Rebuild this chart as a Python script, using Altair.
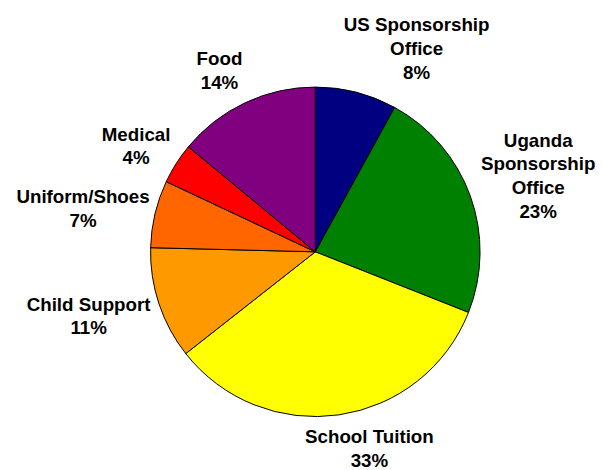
import altair as alt
import pandas as pd

# ---- data ----
categories = ["US Sponsorship Office", "Uganda Sponsorship Office", "School Tuition",
              "Child Support", "Uniform/Shoes", "Medical", "Food"]
label_names = ["US Sponsorship\nOffice", "Uganda\nSponsorship\nOffice", "School Tuition",
               "Child Support", "Uniform/Shoes", "Medical", "Food"]
values = [8, 23, 33.4, 11, 6.6, 4, 14]
colors = ["#000080", "#008000", "#FFFF00", "#FF9900", "#FF6600", "#FF0000", "#800080"]

df = pd.DataFrame({
    "category": categories,
    "name": label_names,
    "value": values,
    "order": list(range(len(categories))),
})

# ---- layout / style ----
CX, CY = 311.5, 244    # pie centre inside the view
R = 167                # pie radius
LH = 24                # label line height
# per-label placement of the label block centre: (radius, dx, dy)
label_pos = {
    "US Sponsorship Office": (212, 50, 0),
    "Uganda Sponsorship Office": (238, 2, 4),
    "School Tuition": (200, 26, 2),
    "Child Support": (240, -2, -10),
    "Uniform/Shoes": (244, 2, 13),
    "Medical": (214, -1, 8),
    "Food": (207, -9, 4),
}

base = alt.Chart(df)

pie = base.mark_arc(outerRadius=R, stroke="black", strokeWidth=1).encode(
    theta=alt.Theta("value:Q", stack=True),
    color=alt.Color("category:N", scale=alt.Scale(domain=categories, range=colors), legend=None),
    order=alt.Order("order:Q"),
    x=alt.value(CX),
    y=alt.value(CY),
)

layers = [pie]
for cat, nm in zip(categories, label_names):
    r, dx, dy = label_pos[cat]
    n_lines = nm.count("\n") + 2
    dy = dy - (n_lines - 1) * LH / 2   # first line sits at the anchor; centre the block
    layers.append(
        base.transform_joinaggregate(total="sum(value)")
        .transform_window(cum="sum(value)", sort=[alt.SortField("order")], frame=[None, 0])
        .transform_calculate(
            mid="(datum.cum - datum.value / 2) / datum.total",
            label="datum.name + '\\n' + format(datum.value / datum.total, '.0%')",
        )
        .transform_filter(alt.datum.category == cat)
        .mark_text(radius=r, dx=dx, dy=dy, font="Liberation Sans", fontSize=19,
                   fontWeight="bold", lineBreak="\n", lineHeight=LH, color="black",
                   align="center", baseline="middle")
        .encode(
            theta=alt.Theta("mid:Q", scale=alt.Scale(domain=[0, 1], range=[0, 6.283185307])),
            text="label:N",
            x=alt.value(CX),
            y=alt.value(CY),
        )
    )

chart = (
    alt.layer(*layers)
    .resolve_scale(theta="independent")
    .properties(width=595, height=462, autosize="none", padding=0, background="white")
    .configure_view(strokeWidth=0)
)

chart.save("out.html", embed_options={"renderer": "svg", "actions": False})
